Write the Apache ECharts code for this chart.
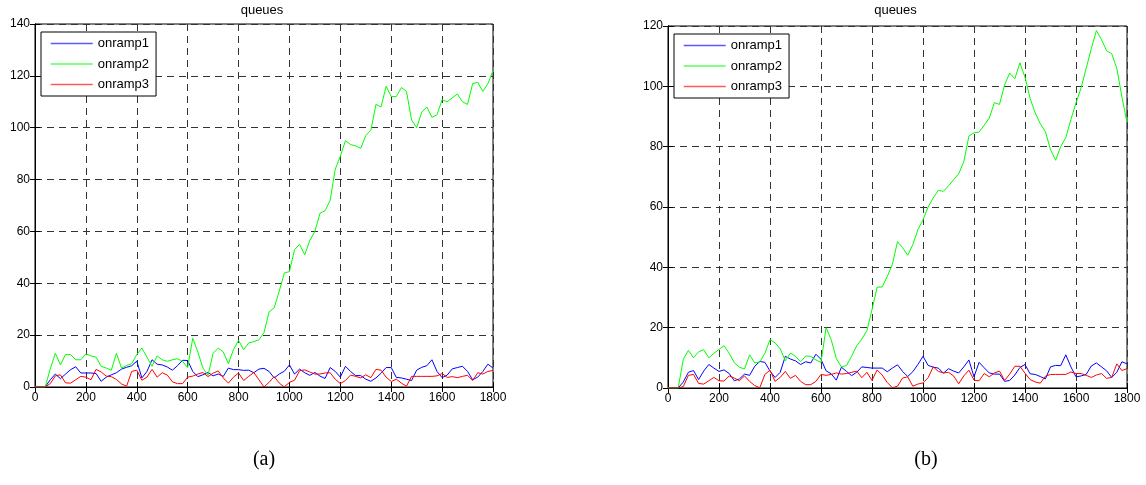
<!DOCTYPE html>
<html>
<head>
<meta charset="utf-8">
<script src="https://cdn.jsdelivr.net/npm/echarts@6/dist/echarts.min.js"></script>
<style>
  html, body { margin: 0; padding: 0; background: #fff; }
  #chart { width: 1146px; height: 485px; }
</style>
</head>
<body>
<div id="chart"></div>
<script>
// sample times (every 20 time units, 0..1800)
const time = Array.from({ length: 91 }, (_, i) => i * 20)

const seriesNames = ['onramp1', 'onramp2', 'onramp3']
const seriesColors = ['#0000ff', '#00ff00', '#ff0000']
const panelLabels = ['(a)', '(b)']

// panel (a)
const aOnramp1 = [0, 0, 0, 2.8, 5, 3.2, 5, 6.7, 7.8, 5.4, 5.4, 5.4, 5.2, 2.2, 3.8, 4.7, 5.5, 6.9, 7.6, 8.2,
  10, 3.5, 6, 10.5, 8.8, 8.5, 7.7, 6.5, 8.2, 10.3, 10.2, 6, 4, 4.7, 5.6, 4.3, 5, 4.1, 7.3, 6.7,
  6.7, 6.4, 6.5, 5.5, 6.9, 7.2, 6, 3.5, 5, 6.1, 8.5, 5, 6.9, 5.5, 4.5, 5.6, 4.2, 3.3, 7.5, 6,
  3.8, 8, 6, 4.4, 4.4, 3, 2.2, 3.5, 5.3, 7.5, 7.5, 3.7, 3.5, 3, 2.5, 6.5, 7.6, 8.2, 10.5, 6,
  3.6, 4.6, 7, 7.5, 8, 6, 2.8, 3.8, 6, 8.8, 7.3]
const aOnramp2 = [0, 0, 0, 7, 13, 8.5, 12.5, 12.5, 10.5, 10.5, 12.8, 12, 11.5, 8, 7.3, 6.5, 13, 7.3, 8.3, 9,
  12.5, 15, 11.5, 8, 12, 10.5, 9.9, 10.5, 10.9, 9.9, 7.5, 18.8, 13.5, 7.3, 4.5, 13, 15, 13.5, 9, 14.4,
  18, 14.4, 17, 17.5, 18.2, 21, 29, 30.5, 37, 44, 44.5, 53, 55, 51, 56.5, 60, 67, 68, 72, 84,
  89, 95, 93.5, 93, 92, 97, 99, 109, 108, 116, 112, 112, 115.5, 114, 103, 100, 106, 108, 104, 105,
  110.8, 110, 111.5, 113, 110, 109, 117, 117.5, 114, 117, 122]
const aOnramp3 = [0, 0, 0, 1.3, 4.3, 4.7, 1.6, 1.5, 2.8, 4.1, 3.8, 2.8, 6.8, 5.8, 4.2, 4, 2.9, 1.2, 0.3, 6,
  6.5, 2.6, 3.8, 6.8, 3.8, 5.5, 4.6, 2, 1.3, 1.3, 3.8, 4.2, 5, 5.6, 4, 5.3, 6.2, 3.5, 1.5, 3.8,
  5.4, 2.5, 4.1, 5.6, 2.8, 0, 1.8, 4, 1.5, 0, 1.8, 2.6, 6.3, 6.6, 5.8, 5, 5, 5.4, 5.5, 3,
  1.3, 2.5, 4.6, 4.1, 3.5, 4.7, 3.6, 6.8, 6.5, 3.8, 2.1, 3, 1.5, 0.3, 4.1, 4.1, 4.1, 4.1, 4.1, 4.3,
  5.2, 3.7, 4, 3.6, 4.1, 4.5, 2.5, 5.5, 5, 6, 6.4]

// panel (b)
const bOnramp1 = [0, 0, 0, 2, 5.2, 5.8, 2.8, 5.6, 7.8, 6.6, 5.5, 6, 4.8, 2.4, 3, 4.6, 4.2, 7.2, 8.8, 8.5,
  5.6, 3.5, 5.2, 10.5, 9.6, 9, 7.8, 8.7, 8.3, 11.2, 9.5, 5.7, 4.7, 2.6, 6.9, 5.5, 4.1, 5.2, 7, 6.8,
  6.6, 6.6, 6.6, 5.4, 6.6, 7.7, 5.5, 3.8, 5.4, 7.8, 10.5, 7.5, 6.9, 6.6, 4.9, 6.4, 5.6, 5, 7, 9.3,
  3.7, 8.5, 6.7, 5, 4.6, 4.6, 2.2, 2.5, 4.3, 6.8, 7.8, 4.7, 4.5, 3.8, 3, 7, 7.5, 7.4, 11, 7,
  3.7, 4, 4.5, 7.3, 8.3, 7, 5.7, 3.5, 5.2, 8.7, 8]
const bOnramp2 = [0, 0, 0, 9.5, 12.5, 10, 12, 12.7, 10, 11.5, 12.8, 14, 11.5, 8.4, 6.9, 6.3, 11, 8.3, 8.6, 11.5,
  16, 15, 13, 9, 11.6, 10.5, 8.7, 10.6, 10.5, 9.3, 8.5, 20, 16, 9.8, 7, 7.5, 10.5, 14, 16.2, 19,
  26, 33.4, 33.5, 37, 41, 48.5, 46.5, 44, 47.5, 52.5, 55.7, 60, 63, 65.5, 65.2, 67, 69, 71, 75, 83.5,
  84.6, 84.8, 87.1, 89.5, 94.6, 94, 100.5, 104.4, 102.5, 107.8, 103, 96, 91.2, 87.6, 85, 79, 75.5, 80, 83, 89,
  94.5, 99.5, 106, 112.5, 118.5, 115.5, 111.8, 110.8, 106, 96.5, 88]
const bOnramp3 = [0, 0, 0, 0.5, 4.2, 4.5, 1.5, 1.3, 2.4, 3.5, 2.4, 2.3, 4, 3.3, 2.4, 4, 2.2, 0.8, 0.1, 4.5,
  5.9, 2.2, 3.5, 5.5, 3.2, 4.2, 2.2, 1.1, 1.1, 2.2, 4.5, 4.2, 4.5, 5, 4.6, 4.8, 5.2, 5.6, 3.4, 5.2,
  2.5, 6, 4.3, 1.8, 0.1, 0.6, 3.3, 3.7, 0.6, 1.3, 1.7, 3.4, 7, 5.5, 5, 5.2, 4, 1.4, 4, 5.9,
  2.6, 2.4, 4.8, 3.7, 5, 5.6, 2.5, 4.6, 7.2, 7.2, 4.9, 2.8, 2, 1.6, 3.9, 4.5, 4.5, 4.5, 4.5, 5.3,
  4.8, 4.8, 4.2, 3.5, 4.3, 4.8, 3.2, 3.5, 8, 5.8, 6.4]

const panels = [
  { yMax: 140, data: [aOnramp1, aOnramp2, aOnramp3] },
  { yMax: 120, data: [bOnramp1, bOnramp2, bOnramp3] }
]

const grids = [
  { left: 35, top: 24, width: 458, height: 363 },
  { left: 668, top: 26, width: 459, height: 362 }
]

const font = 'Liberation Sans, Arial, sans-serif'
const gridDash = { color: '#333', type: [7, 5], width: 1 }
const plainNum = v => String(v)

const chart = echarts.init(document.getElementById('chart'), null, { renderer: 'canvas' })

const xAxes = []
const yAxes = []
const series = []
const legends = []
const graphics = []

panels.forEach((p, k) => {
  const g = grids[k]
  // bottom / left axes with labels and grid
  xAxes.push({
    gridIndex: k, type: 'value', min: 0, max: 1800, interval: 200, position: 'bottom',
    axisLine: { lineStyle: { color: '#000' } },
    axisTick: { inside: true, length: 5, lineStyle: { color: '#000' } },
    axisLabel: { color: '#000', fontSize: 12, fontFamily: font, margin: 5, formatter: plainNum },
    splitLine: { show: true, lineStyle: gridDash }
  })
  yAxes.push({
    gridIndex: k, type: 'value', min: 0, max: p.yMax, interval: 20, position: 'left',
    axisLine: { show: true, lineStyle: { color: '#000' } },
    axisTick: { show: true, inside: true, length: 5, lineStyle: { color: '#000' } },
    axisLabel: { color: '#000', fontSize: 12, fontFamily: font, margin: 5, formatter: plainNum },
    splitLine: { show: true, lineStyle: gridDash }
  })
  // top / right mirror axes, ticks only
  xAxes.push({
    gridIndex: k, type: 'value', min: 0, max: 1800, interval: 200, position: 'top',
    axisLine: { show: true, lineStyle: { color: '#000' } },
    axisTick: { inside: true, length: 5, lineStyle: { color: '#000' } },
    axisLabel: { show: false }, splitLine: { show: false }
  })
  yAxes.push({
    gridIndex: k, type: 'value', min: 0, max: p.yMax, interval: 20, position: 'right',
    axisLine: { show: true, lineStyle: { color: '#000' } },
    axisTick: { show: true, inside: true, length: 5, lineStyle: { color: '#000' } },
    axisLabel: { show: false }, splitLine: { show: false }
  })

  p.data.forEach((vals, i) => {
    series.push({
      name: seriesNames[i],
      type: 'line',
      xAxisIndex: k * 2,
      yAxisIndex: k * 2,
      data: vals.map((v, j) => [time[j], v]),
      symbol: 'none',
      color: seriesColors[i],
      lineStyle: { width: 1, color: seriesColors[i] },
      z: 3 + i
    })
  })

  legends.push({
    data: seriesNames,
    orient: 'vertical',
    left: g.left + 6,
    top: g.top + 8,
    padding: [5, 7, 5, 9],
    itemWidth: 42,
    itemHeight: 14,
    itemGap: 7.5,
    backgroundColor: '#fff',
    borderColor: '#000',
    borderWidth: 1,
    borderRadius: 0,
    selectedMode: false,
    itemStyle: { opacity: 0 },
    lineStyle: { width: 1.5, opacity: 0.65 },
    textStyle: { color: '#000', fontSize: 13, fontFamily: font }
  })

  graphics.push({
    type: 'text',
    x: g.left + g.width / 2 - 2,
    y: 10,
    style: { text: 'queues', fill: '#000', font: '13px ' + font, textAlign: 'center', textVerticalAlign: 'middle' }
  })
  graphics.push({
    type: 'text',
    x: k === 0 ? 264 : 926,
    y: 460,
    style: { text: panelLabels[k], fill: '#000', font: '20px Liberation Serif, Times New Roman, serif', textAlign: 'center', textVerticalAlign: 'middle' }
  })
})

chart.setOption({
  animation: false,
  backgroundColor: '#fff',
  grid: grids.map(g => ({ ...g, show: true, borderColor: '#000', borderWidth: 1, backgroundColor: 'transparent' })),
  xAxis: xAxes,
  yAxis: yAxes,
  legend: legends,
  graphic: graphics,
  series
})
</script>
</body>
</html>
